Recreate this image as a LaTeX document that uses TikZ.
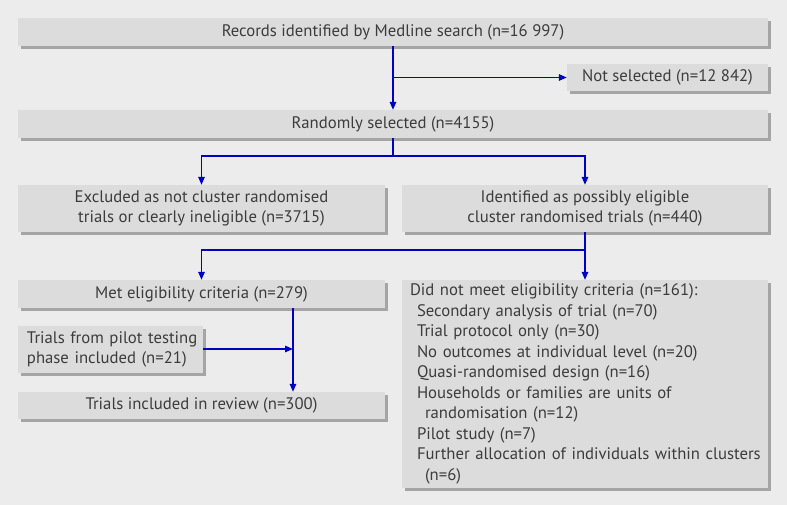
\documentclass[tikz,border=0pt]{standalone}
\usepackage{fontspec}
\setmainfont{PT Sans}
\usetikzlibrary{shadows,arrows.meta}
\definecolor{bg}{HTML}{ECECEC}
\definecolor{boxfill}{HTML}{DCDCDC}
\definecolor{shade}{HTML}{A5A5A5}
\definecolor{arrowblue}{HTML}{0000C0}
\definecolor{txt}{HTML}{3C3C3C}
\begin{document}
\begin{tikzpicture}[x=1pt,y=-1pt,
  box/.style={fill=boxfill, draw=none,
    drop shadow={shadow xshift=3pt,shadow yshift=-3pt,fill=shade,opacity=1},
    text=txt, font=\fontsize{16.7}{20.5}\selectfont, inner sep=0pt, align=center},
  conn/.style={draw=arrowblue, line width=1.4pt},
  arr/.style={conn, -{Triangle[length=8pt,width=6.5pt]}}]
\fill[bg] (0,0) rectangle (787,505);
\useasboundingbox (0,0) rectangle (787,505);

\node[box, minimum width=750pt, minimum height=28pt] (top) at (393,32) {Records identified by Medline search (n=16 997)};
\node[box, minimum width=201pt, minimum height=27pt] (notsel) at (667.5,77.5) {Not selected (n=12 842)};
\node[box, minimum width=750pt, minimum height=28pt] (rand) at (393,124) {Randomly selected (n=4155)};
\node[box, minimum width=367pt, minimum height=47pt] (excl) at (201.5,208.5) {Excluded as not cluster randomised\\trials or clearly ineligible (n=3715)};
\node[box, minimum width=366pt, minimum height=47pt] (ident) at (585,208.5) {Identified as possibly eligible\\cluster randomised trials (n=440)};
\node[box, minimum width=367pt, minimum height=28pt] (met) at (201.5,294) {Met eligibility criteria (n=279)};
\node[box, text width=167pt, inner xsep=9pt, minimum height=47pt, align=left] (pilot) at (110.5,349.5) {\mbox{Trials from pilot testing}\\\mbox{phase included (n=21)}};
\node[box, minimum width=367pt, minimum height=27pt] (incl) at (201.5,405.5) {Trials included in review (n=300)};
\node[box, text width=350pt, inner xsep=8pt, minimum height=208pt, align=left] (notmeet) at (585,384) {\mbox{Did not meet eligibility criteria (n=161):}\\
\mbox{\hspace*{7pt}Secondary analysis of trial (n=70)}\\
\mbox{\hspace*{7pt}Trial protocol only (n=30)}\\
\mbox{\hspace*{7pt}No outcomes at individual level (n=20)}\\
\mbox{\hspace*{7pt}Quasi-randomised design (n=16)}\\
\mbox{\hspace*{7pt}Households or families are units of}\\
\mbox{\hspace*{15pt}randomisation (n=12)}\\
\mbox{\hspace*{7pt}Pilot study (n=7)}\\
\mbox{\hspace*{7pt}Further allocation of individuals within clusters}\\
\mbox{\hspace*{15pt}(n=6)}};

\draw[arr] (top.south) -- (rand.north);
\coordinate (b1) at (top.south |- notsel.west);
\draw[arr] (b1) -- (notsel.west);

\coordinate (s1) at (393,156);
\draw[arr] (rand.south) -- (s1) -| (excl.north);
\draw[arr] (s1) -| (ident.north);

\coordinate (s2) at (585,250);
\draw[arr] (ident.south) -- (s2) -| (met.north);
\draw[arr] (s2) -- (notmeet.north);

\coordinate (j) at (293,349);
\draw[arr] (met.south -| j) -- (incl.north -| j);
\draw[arr] (pilot.east |- j) -- (j);
\end{tikzpicture}
\end{document}
